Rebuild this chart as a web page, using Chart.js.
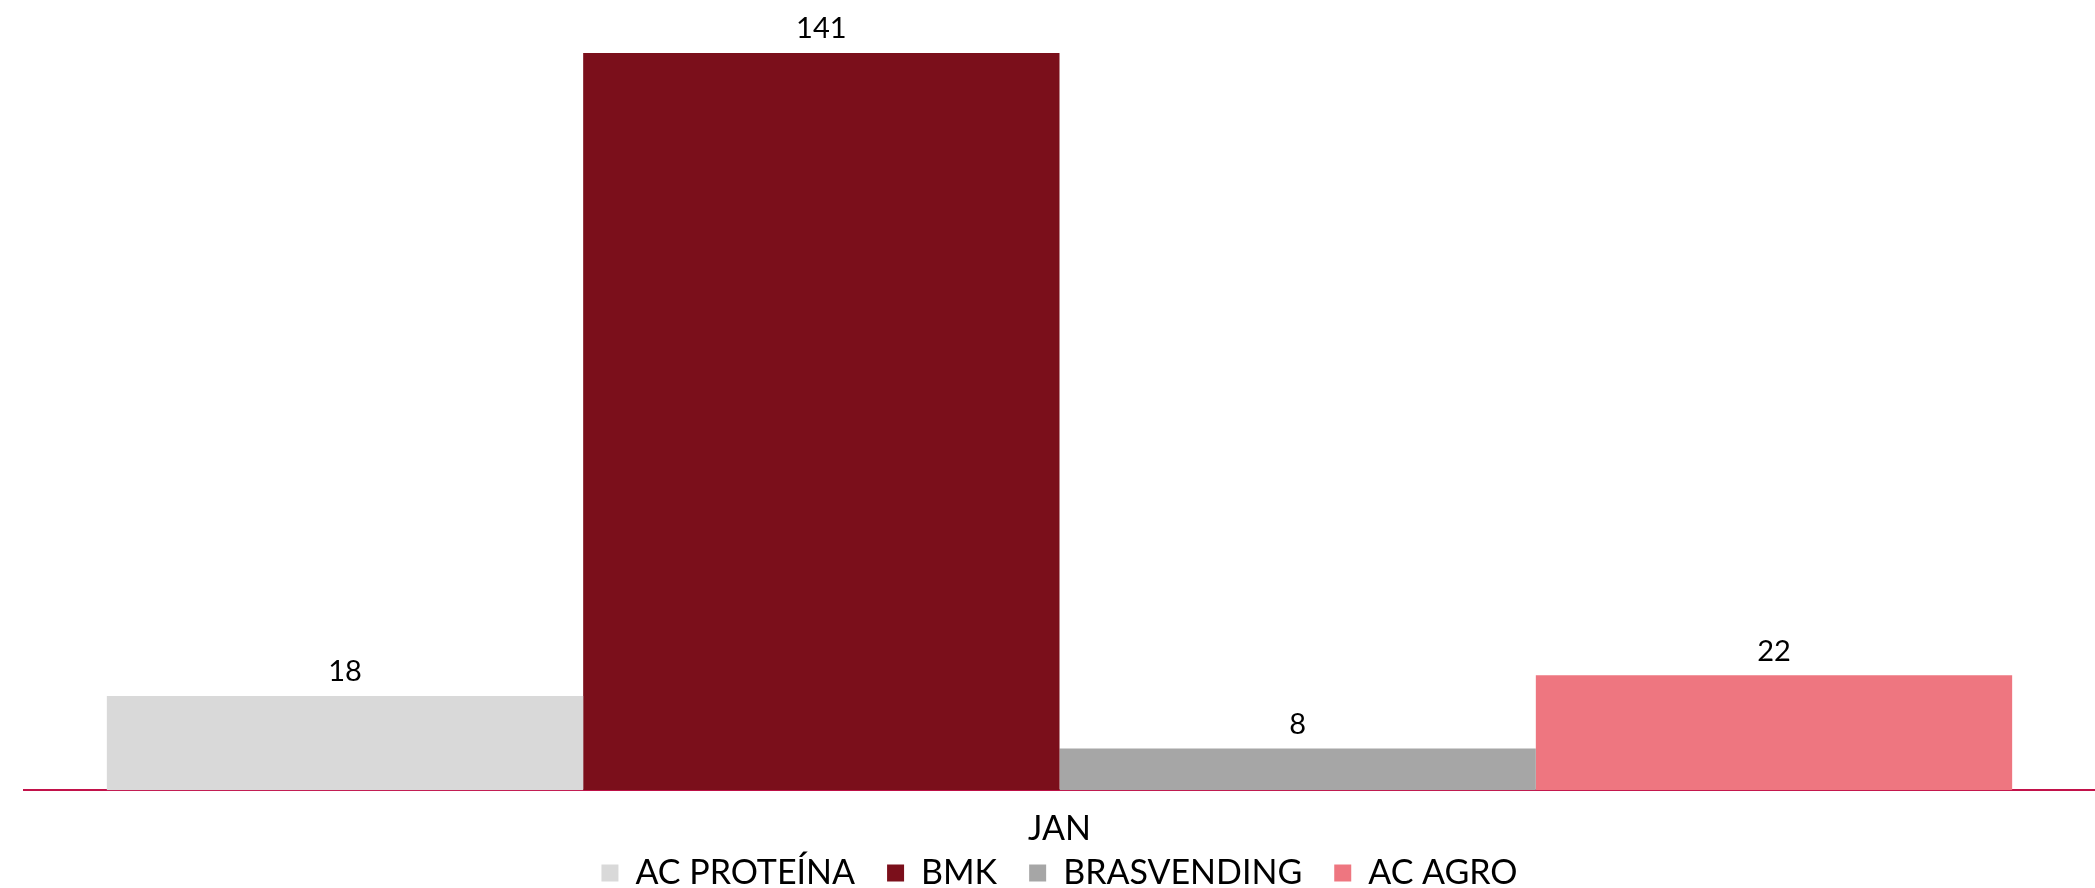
<!DOCTYPE html>
<html>
<head>
<meta charset="utf-8">
<script src="https://cdn.jsdelivr.net/npm/chart.js@4"></script>
<style>
  html, body { margin: 0; padding: 0; background: #fff; }
  #wrap { width: 2095px; height: 888px; }
</style>
</head>
<body>
<div id="wrap"><canvas id="myChart"></canvas></div>
<script>
const categories = ["JAN"];
const seriesNames = ["AC PROTEÍNA", "BMK", "BRASVENDING", "AC AGRO"];
const seriesValues = [[18], [141], [8], [22]];
const barColors = ["#D9D9D9", "#7B0F1B", "#A6A6A6", "#EE7680"];

// value labels above each bar
const valueLabels = {
  id: "valueLabels",
  afterDatasetsDraw(chart) {
    const ctx = chart.ctx;
    ctx.save();
    ctx.font = "29px Lato";
    ctx.fillStyle = "#000";
    ctx.textAlign = "center";
    ctx.textBaseline = "middle";
    chart.data.datasets.forEach((ds, i) => {
      chart.getDatasetMeta(i).data.forEach((bar, j) => {
        ctx.fillText(String(ds.data[j]), bar.x, bar.y - 24);
      });
    });
    ctx.restore();
  }
};

// legend padding is wide (item gaps), so let its box overlap the axis area
const legendNudge = {
  id: "legendNudge",
  afterLayout(chart) {
    const lg = chart.legend;
    lg.top = lg.bottom - 64;
  }
};

new Chart("myChart", {
  type: "bar",
  data: {
    labels: categories,
    datasets: seriesNames.map((name, i) => ({
      label: name,
      data: seriesValues[i],
      backgroundColor: barColors[i],
      borderWidth: 0,
      barPercentage: 1.0,
      categoryPercentage: 0.92
    }))
  },
  options: {
    responsive: true,
    maintainAspectRatio: false,
    animation: false,
    layout: { padding: { top: 6, left: 24, right: 0, bottom: 0 } },
    plugins: {
      legend: {
        position: "bottom",
        maxHeight: 29,
        labels: {
          font: { family: "Lato", size: 34 },
          color: "#000",
          boxWidth: 17,
          boxHeight: 17,
          padding: 32
        }
      },
      tooltip: { enabled: false }
    },
    scales: {
      x: {
        grid: { display: false },
        border: { display: true, color: "#C2124A", width: 2 },
        ticks: { font: { family: "Lato", size: 34 }, color: "#000", padding: 10 }
      },
      y: {
        display: false,
        min: 0,
        max: 150
      }
    }
  },
  plugins: [valueLabels, legendNudge]
});
</script>
</body>
</html>
